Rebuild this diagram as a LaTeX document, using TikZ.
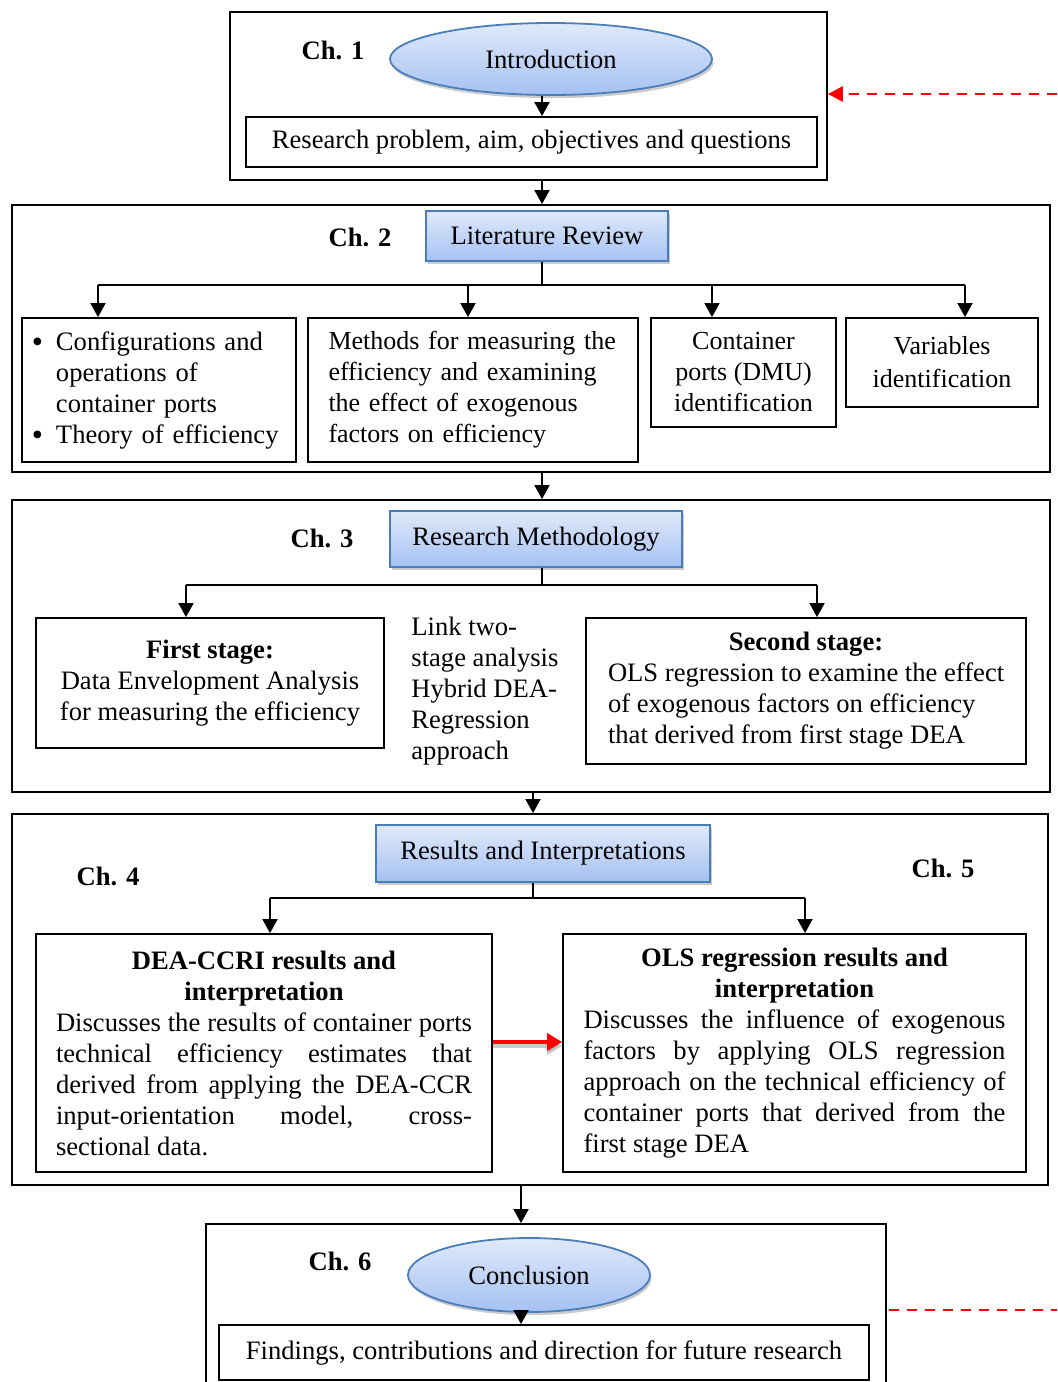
\documentclass[tikz,border=0pt]{standalone}
\usepackage{fontspec}
\setmainfont{Liberation Serif}
\usetikzlibrary{arrows.meta,shapes.geometric,shadows}
\definecolor{bluebd}{HTML}{4A7EBB}
\definecolor{bluetop}{HTML}{E0E9FA}
\definecolor{bluebot}{HTML}{A5C1F2}
\newcommand{\jline}[2]{\makebox[#1][s]{#2}}
\newcommand{\lline}[2]{\makebox[#1][l]{#2}}
\newcommand{\bigbul}{\raisebox{-0.08em}{\fontsize{16}{15.5}\selectfont\textbullet}}
\begin{document}
\begin{tikzpicture}[x=0.5pt,y=-0.5pt,
  every node/.style={font=\fontsize{13.3}{15.5}\selectfont, inner sep=0pt},
  chbox/.style={draw, line width=0.9pt, rectangle},
  ibox/.style={draw, line width=0.9pt, rectangle, align=center},
  bluebox/.style={draw=bluebd, line width=0.9pt, top color=bluetop, bottom color=bluebot,
    drop shadow={shadow xshift=0.8pt, shadow yshift=-1.6pt, fill=black!45, opacity=0.45}},
  chlab/.style={font=\fontsize{13.3}{15.5}\selectfont\bfseries},
  arr/.style={line width=0.9pt, -{Triangle[length=7pt,width=7.5pt]}},
  ln/.style={line width=0.9pt},
  redarr/.style={line width=2pt, red, -{Triangle[length=7.5pt,width=8.5pt]}},
  fb/.style={red, line width=1.3pt, dash pattern=on 5pt off 4pt},
]
\useasboundingbox (0,0) rectangle (1057,1382);
\clip (0,0) rectangle (1057,1382);

% ---------- chapter frames ----------
\node[chbox, minimum width=298.5pt, minimum height=84pt] (ch1) at (528.5,96) {};
\node[chbox, minimum width=519pt, minimum height=133.5pt] (ch2) at (531,338.5) {};
\node[chbox, minimum width=519pt, minimum height=146pt] (ch3) at (531,646) {};
\node[chbox, minimum width=518pt, minimum height=185.5pt] (ch45) at (530,999.5) {};
\node[chbox, minimum width=340pt, minimum height=85.5pt] (ch6) at (546,1309.5) {};

% ---------- chapter labels ----------
\node[chlab] (l1) at (333,50) {Ch. 1};
\node[chlab] (l2) at (360,237) {Ch. 2};
\node[chlab] (l3) at (322,538) {Ch. 3};
\node[chlab] (l4) at (108,876) {Ch. 4};
\node[chlab] (l5) at (943,868) {Ch. 5};
\node[chlab] (l6) at (340,1261) {Ch. 6};

% ---------- Ch. 1 ----------
\node[bluebox, ellipse, minimum width=161pt, minimum height=36pt] (intro) at (551,59) {Introduction};
\node[ibox, minimum width=285.5pt, minimum height=25pt] (rp) at (531.5,142) {Research problem, aim, objectives and questions};

% ---------- Ch. 2 ----------
\node[bluebox, rectangle, minimum width=121pt, minimum height=25pt] (lit) at (547,236) {Literature Review};
\node[ibox, minimum width=137pt, minimum height=72pt, text width=127pt, align=left] (boxA) at (159,390)
  {\lline{12pt}{\bigbul}Configurations and\\\hspace*{12pt}operations of\\\hspace*{12pt}container ports\\\lline{12pt}{\bigbul}Theory of efficiency};
\node[ibox, minimum width=165pt, minimum height=72pt, text width=144.5pt, align=left,
      font=\fontsize{13}{15.5}\selectfont] (boxB) at (473,390)
  {\jline{144.5pt}{Methods for measuring the}\\\jline{144.5pt}{efficiency and examining}\\\jline{144.5pt}{the effect of exogenous}\\factors on efficiency};
\node[ibox, minimum width=92.5pt, minimum height=54.5pt, font=\fontsize{13}{15.5}\selectfont] (boxC) at (743.5,372.5) {Container\\ports (DMU)\\identification};
\node[ibox, minimum width=96pt, minimum height=44.5pt, font=\fontsize{13}{16.5}\selectfont] (boxD) at (942,362.5) {Variables\\identification};

% ---------- Ch. 3 ----------
\node[bluebox, rectangle, minimum width=146pt, minimum height=28pt] (meth) at (536,539) {Research Methodology};
\node[ibox, minimum width=174pt, minimum height=65pt] (first) at (210,683)
  {\textbf{First stage:}\\Data Envelopment Analysis\\for measuring the efficiency};
\node[align=left, anchor=west] (link) at (411,691) {Link two-\\stage analysis\\Hybrid DEA-\\Regression\\approach};
\node[ibox, minimum width=220pt, minimum height=73pt] (second) at (806,691)
  {\textbf{Second stage:}\\\lline{198pt}{OLS regression to examine the effect}\\\lline{198pt}{of exogenous factors on efficiency}\\\lline{198pt}{that derived from first stage DEA}};

% ---------- Ch. 4 / 5 ----------
\node[bluebox, rectangle, minimum width=167pt, minimum height=28.5pt] (res) at (543,853.5) {Results and Interpretations};
\node[ibox, minimum width=228pt, minimum height=119pt] (dea) at (264,1053)
  {\textbf{DEA-CCRI results and}\\\textbf{interpretation}\\
   \jline{208pt}{Discusses the results of container ports}\\
   \jline{208pt}{technical efficiency estimates that}\\
   \jline{208pt}{derived from applying the DEA-CCR}\\
   \jline{208pt}{input-orientation model, cross-}\\
   \lline{208pt}{sectional data.}};
\node[ibox, minimum width=231.5pt, minimum height=119pt] (ols) at (794.5,1053)
  {\textbf{OLS regression results and}\\\textbf{interpretation}\\
   \jline{211pt}{Discusses the influence of exogenous}\\
   \jline{211pt}{factors by applying OLS regression}\\
   \jline{211pt}{approach on the technical efficiency of}\\
   \jline{211pt}{container ports that derived from the}\\
   \lline{211pt}{first stage DEA}};

% ---------- Ch. 6 ----------
\node[bluebox, ellipse, minimum width=121pt, minimum height=37pt] (concl) at (529,1275) {Conclusion};
\node[ibox, minimum width=325pt, minimum height=27.5pt] (find) at (544,1352.5) {Findings, contributions and direction for future research};

% ---------- coordinates ----------
\coordinate (x542) at (542,0);
\coordinate (x533) at (533,0);
\coordinate (x521) at (521,0);
\coordinate (b2) at (542,285);
\coordinate (b2a) at (98,285);
\coordinate (b2b) at (468,285);
\coordinate (b2c) at (712,285);
\coordinate (b2d) at (965,285);
\coordinate (b3) at (542,585);
\coordinate (b3a) at (186,585);
\coordinate (b3b) at (817,585);
\coordinate (b4) at (533,898);
\coordinate (b4a) at (270,898);
\coordinate (b4b) at (805,898);
\coordinate (r1) at (0,1042);
\coordinate (fbtop) at (1057,94);
\coordinate (fbbot) at (1057,1310);

% ---------- connectors ----------
\draw[arr] (intro.south -| x542) -- (rp.north -| x542);
\draw[arr] (ch1.south -| x542) -- (ch2.north -| x542);
\draw[ln] (lit.south -| b2) -- (b2);
\draw[ln] (b2a) -- (b2d);
\draw[arr] (b2a) -- (boxA.north -| b2a);
\draw[arr] (b2b) -- (boxB.north -| b2b);
\draw[arr] (b2c) -- (boxC.north -| b2c);
\draw[arr] (b2d) -- (boxD.north -| b2d);
\draw[arr] (ch2.south -| x542) -- (ch3.north -| x542);
\draw[ln] (meth.south -| b3) -- (b3);
\draw[ln] (b3a) -- (b3b);
\draw[arr] (b3a) -- (first.north -| b3a);
\draw[arr] (b3b) -- (second.north -| b3b);
\draw[arr] (ch3.south -| x533) -- (ch45.north -| x533);
\draw[ln] (res.south -| b4) -- (b4);
\draw[ln] (b4a) -- (b4b);
\draw[arr] (b4a) -- (dea.north -| b4a);
\draw[arr] (b4b) -- (ols.north -| b4b);
\draw[redarr, black!35, opacity=0.6, transform canvas={yshift=-2pt}] (dea.east |- r1) -- (ols.west |- r1);
\draw[redarr] (dea.east |- r1) -- (ols.west |- r1);
\draw[arr] (ch45.south -| x521) -- (ch6.north -| x521);
\draw[arr] (concl.south -| x521) -- (find.north -| x521);
\draw[fb, -{Triangle[length=7.5pt,width=7.5pt]}] (fbtop) -- (ch1.east |- fbtop);
\draw[fb] ([xshift=1pt]ch6.east |- fbbot) -- (fbbot);
\end{tikzpicture}
\end{document}
